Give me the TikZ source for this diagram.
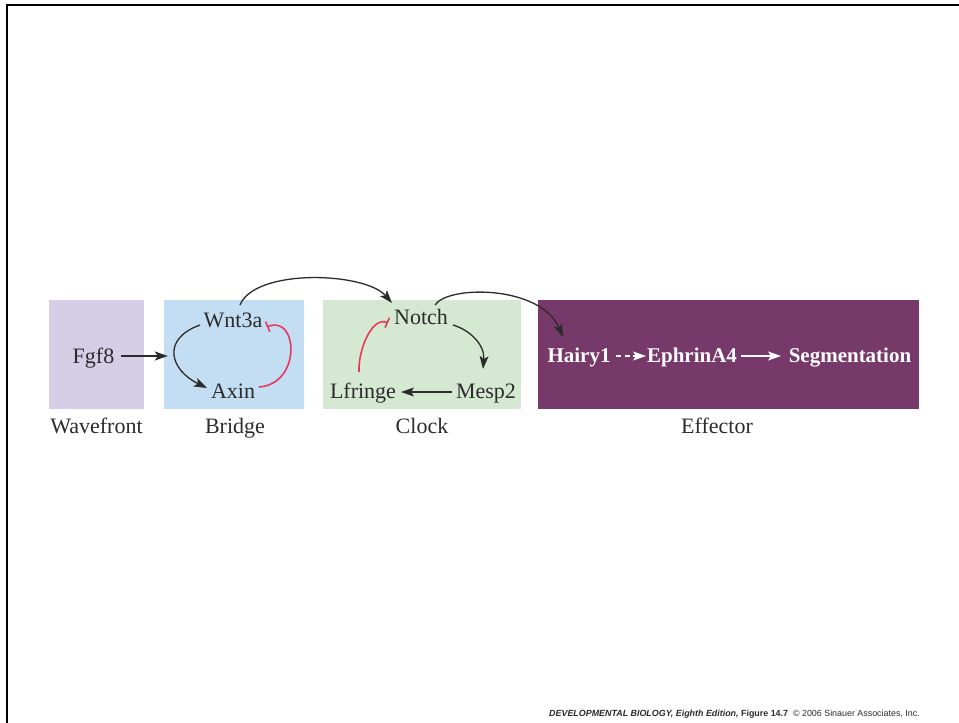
\documentclass[tikz,border=0pt]{standalone}
\usepackage{fontspec}
\setmainfont{Liberation Serif}
\newfontfamily\footfont{Liberation Sans}
\usetikzlibrary{arrows.meta,calc}
\definecolor{lav}{HTML}{D6CEE6}
\definecolor{lblue}{HTML}{C3DDF3}
\definecolor{lgreen}{HTML}{D5E9D2}
\definecolor{purp}{HTML}{77386A}
\definecolor{inhred}{HTML}{E8385B}
\definecolor{ink}{HTML}{2B2B2B}
\tikzset{
  box/.style={draw=none, inner sep=0pt},
  gene/.style={anchor=base, inner sep=1pt, text=ink, font=\fontsize{22}{26}\selectfont},
  wgene/.style={anchor=base, inner sep=1pt, text=white, font=\fontsize{21}{25}\selectfont\bfseries},
  caption/.style={anchor=base, inner sep=1pt, text=ink, font=\fontsize{22}{26}\selectfont},
  arr/.style={draw=ink, line width=1.3pt, -{Stealth[length=13pt,width=9pt,inset=3pt]}},
  warr/.style={draw=white, line width=1.5pt, -{Stealth[length=13pt,width=9pt,inset=3pt]}},
  inh/.style={draw=inhred, line width=1.6pt, -{Bar[width=11pt,line width=1.6pt]}},
}
\begin{document}
\begin{tikzpicture}[x=1pt,y=-1pt]
\useasboundingbox (0,0) rectangle (959,723);
% frame lines
\draw[line width=2pt, black] (7,723) -- (7,5) -- (959,5);
% boxes
\node[box, fill=lav, minimum width=95pt, minimum height=109pt] (wf) at (96.5,354.5) {};
\node[box, fill=lblue, minimum width=140pt, minimum height=109pt] (br) at (234,354.5) {};
\node[box, fill=lgreen, minimum width=198pt, minimum height=109pt] (cl) at (422,354.5) {};
\node[box, fill=purp, minimum width=381pt, minimum height=109pt] (ef) at (728.5,354.5) {};
% captions
\node[caption] (cwf) at (96.5,433) {Wavefront};
\node[caption] (cbr) at (235,433) {Bridge};
\node[caption] (ccl) at (422,433) {Clock};
\node[caption] (cef) at (717,433) {Effector};
% genes
\node[gene] (fgf) at (93.5,363) {Fgf8};
\node[gene] (wnt) at (233,327) {Wnt3a};
\node[gene] (axin) at (233,398) {Axin};
\node[gene] (notch) at (421,324) {Notch};
\node[gene] (lfr) at (363,398) {Lfringe};
\node[gene] (mesp) at (486,398) {Mesp2};
\node[wgene] (hairy) at (579,362) {Hairy1};
\node[wgene] (eph) at (692,362) {EphrinA4};
\node[wgene] (seg) at (850,362) {Segmentation};
% connectors
\draw[arr] ($(fgf.base)+(27,-7)$) -- ($(br.west|-fgf.base)+(4,-7)$);
\draw[arr] ($(wnt.base)+(-33,-2)$) .. controls ($(wnt.base)+(-72,12)$) and ($(axin.base)+(-63,-28)$) .. ($(axin.base)+(-26,-10)$);
\draw[inh] ($(axin.base)+(26,-11)$) .. controls ($(axin.base)+(69,-14)$) and ($(wnt.base)+(65,-13)$) .. ($(wnt.base)+(34,0)$);
\draw[arr] ($(wnt.base)+(7,-22)$) .. controls ($(wnt.base)+(22,-59)$) and ($(notch.base)+(-56,-52)$) .. ($(notch.base)+(-29,-21)$);
\draw[arr] ($(notch.base)+(14,-19)$) .. controls ($(notch.base)+(27,-39)$) and ($(hairy.base)+(-38,-77)$) .. ($(hairy.base)+(-16,-25)$);
\draw[arr] ($(notch.base)+(32,1)$) .. controls ($(notch.base)+(49,6)$) and ($(mesp.base)+(-1,-53)$) .. ($(mesp.base)+(-3,-29)$);
\draw[arr] ($(mesp.base)+(-34,-6)$) -- ($(lfr.base)+(38,-6)$);
\draw[inh] ($(lfr.base)+(-4,-26)$) .. controls ($(lfr.base)+(-5,-48)$) and ($(notch.base)+(-49,-8)$) .. ($(notch.base)+(-33,-1)$);
\draw[warr, dash pattern=on 5pt off 3.5pt] ($(hairy.base)+(37,-6)$) -- ($(eph.base)+(-46,-6)$);
\draw[warr] ($(eph.base)+(49,-6)$) -- ($(seg.base)+(-69,-6)$);
% footer
\node[anchor=base east, inner sep=0pt, text=ink, font=\footfont\fontsize{8.9}{10}\selectfont] (foot) at (920,716)
  {\bfseries\itshape DEVELOPMENTAL BIOLOGY, Eighth Edition,\ \upshape Figure 14.7\ \ \mdseries\textcopyright\ 2006 Sinauer Associates, Inc.};
\end{tikzpicture}
\end{document}
